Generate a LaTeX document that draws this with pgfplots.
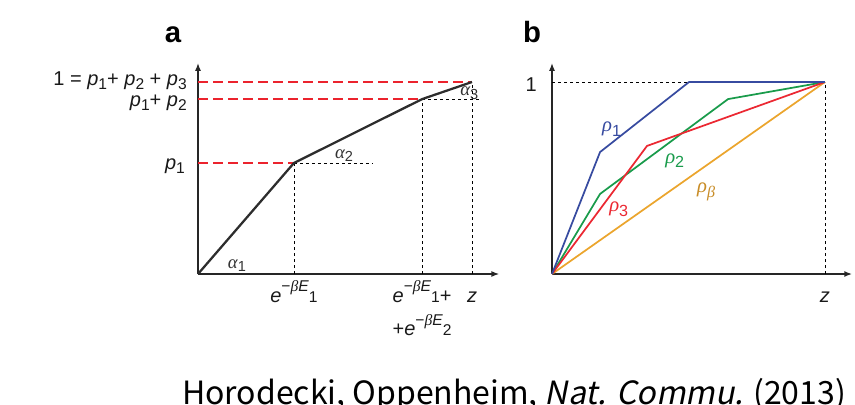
\documentclass[border=0pt]{standalone}
\usepackage{fontspec}
\setmainfont{Liberation Sans}
\newfontfamily\grk{Liberation Serif}
\newfontfamily\cjk{Noto Sans CJK JP}
\newfontfamily\cjkit[FakeSlant=0.2]{Noto Sans CJK JP}
\usepackage{graphicx}
\usepackage{pgfplots}
\pgfplotsset{compat=1.18}
\usetikzlibrary{arrows.meta}

\definecolor{curveA}{RGB}{45,45,45}
\definecolor{reddash}{RGB}{235,35,45}
\definecolor{rhoblue}{RGB}{55,75,160}
\definecolor{rhogreen}{RGB}{25,155,75}
\definecolor{rhored}{RGB}{235,40,50}
\definecolor{rhoorange}{RGB}{235,165,45}

\newcommand{\mi}[1]{\textit{#1}}
\newcommand{\gk}[1]{{\grk\itshape #1}}
\newcommand{\sub}[1]{\raisebox{-0.38ex}{\scalebox{0.78}{#1}}}
\newcommand{\subE}[1]{\raisebox{-0.05ex}{\scalebox{0.78}{#1}}}
\newcommand{\supr}[1]{\raisebox{0.95ex}{\scalebox{0.78}{#1}}}

\tikzset{
  lbl/.style={font=\fontsize{15}{18}\selectfont, text=black!90, inner sep=0pt},
  albl/.style={font=\fontsize{14}{16}\selectfont, text=black!80, inner sep=0pt},
  rlbl/.style={font=\fontsize{15.5}{18}\selectfont, inner sep=0pt},
}

\pgfplotsset{
  panel/.style={
    scale only axis,
    height=158.4pt,
    xmin=0, xmax=1.1, ymin=0, ymax=1.1,
    axis lines=left,
    axis line style={line width=1.3pt, draw=black!85, -{Latex[length=6pt,width=4.5pt]}},
    xtick=\empty, ytick=\empty,
    clip=false, no markers,
  },
  thindash/.style={black, line width=0.6pt, dash pattern=on 2.5pt off 2pt},
  reddashed/.style={reddash, line width=1.4pt, dash pattern=on 7.5pt off 3.75pt},
}

\begin{document}
\begin{tikzpicture}
\useasboundingbox (0,0) rectangle (641.25pt,303pt);

% panel a
\begin{axis}[panel, width=226.05pt, at={(148.5pt,97.5pt)}, anchor=south west]
  \addplot[reddashed] coordinates {(0,0.578) (0.35,0.578)};
  \addplot[reddashed] coordinates {(0,0.911) (0.818,0.911)};
  \addplot[reddashed] coordinates {(0,1) (1,1)};
  \addplot[thindash] coordinates {(0.35,0.578) (0.635,0.578)};
  \addplot[thindash] coordinates {(0.818,0.911) (1.03,0.911)};
  \addplot[thindash] coordinates {(0.35,0) (0.35,0.578)};
  \addplot[thindash] coordinates {(0.818,0) (0.818,0.911)};
  \addplot[thindash] coordinates {(1,0) (1,1)};
  \addplot[curveA, line width=1.7pt] coordinates {(0,0) (0.35,0.578) (0.818,0.911) (1,1)};

  \node[lbl, anchor=base east] at (-0.04,0.984) {1 = \mi{p}\sub{1}+ \mi{p}\sub{2} + \mi{p}\sub{3}};
  \node[lbl, anchor=base east] at (-0.04,0.870) {\mi{p}\sub{1}+ \mi{p}\sub{2}};
  \node[lbl, anchor=base east] at (-0.047,0.542) {\mi{p}\sub{1}};

  \node[lbl, anchor=base] at (0.35,-0.146) {\mi{e}\supr{−\gk{β}\mi{E}}\subE{1}};
  \node[lbl, anchor=base] at (0.818,-0.146) {\mi{e}\supr{−\gk{β}\mi{E}}\subE{1}+};
  \node[lbl, anchor=base] at (0.818,-0.318) {+\mi{e}\supr{−\gk{β}\mi{E}}\subE{2}};
  \node[lbl, anchor=base] at (1,-0.146) {\mi{z}};

  \node[albl, anchor=base] at (0.142,0.031) {\gk{α}\sub{1}};
  \node[albl, anchor=base] at (0.533,0.604) {\gk{α}\sub{2}};
  \node[albl, anchor=base] at (0.99,0.93) {\gk{α}\sub{3}};
\end{axis}

% panel b
\begin{axis}[panel, width=225.2pt, at={(414pt,97.5pt)}, anchor=south west]
  \addplot[thindash] coordinates {(0,1) (0.502,1)};
  \addplot[thindash] coordinates {(1,0) (1,1)};
  \addplot[rhoorange, line width=1.3pt] coordinates {(0,0) (1,1)};
  \addplot[rhogreen, line width=1.3pt] coordinates {(0,0) (0.176,0.417) (0.645,0.911) (1,1)};
  \addplot[rhored, line width=1.3pt] coordinates {(0,0) (0.348,0.667) (1,1)};
  \addplot[rhoblue, line width=1.3pt] coordinates {(0,0) (0.176,0.635) (0.502,1) (1,1)};

  \node[lbl, anchor=base east] at (-0.055,0.948) {1};
  \node[lbl, anchor=base] at (1,-0.151) {\mi{z}};

  \node[rlbl, anchor=base west, text=rhoblue] at (0.183,0.74) {\gk{ρ}\sub{1}};
  \node[rlbl, anchor=base west, text=rhogreen] at (0.414,0.578) {\gk{ρ}\sub{2}};
  \node[rlbl, anchor=base west, text=rhored] at (0.209,0.323) {\gk{ρ}\sub{3}};
  \node[rlbl, anchor=base west, text=rhoorange!85!black] at (0.531,0.422) {\gk{ρ}\sub{\gk{β}}};
\end{axis}

\node[anchor=base, inner sep=0pt, font=\bfseries\fontsize{22}{24}\selectfont] at (129.75pt,270.75pt) {a};
\node[anchor=base, inner sep=0pt, font=\bfseries\fontsize{22}{24}\selectfont] at (399pt,270.75pt) {b};

\node[anchor=base, inner sep=0pt, font=\cjk\fontsize{24}{28}\selectfont] at (385.5pt,-0.4pt)
  {Horodecki, Oppenheim, {\cjkit Nat. Commu.} (2013)};
\end{tikzpicture}
\end{document}
